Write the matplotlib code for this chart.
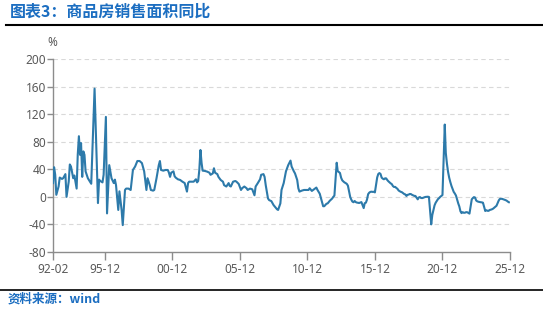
import matplotlib
matplotlib.use("Agg")
import matplotlib.pyplot as plt
import pandas as pd
from matplotlib.lines import Line2D

plt.rcParams['font.family'] = ['Noto Sans CJK SC', 'DejaVu Sans']

title = "图表3：商品房销售面积同比"
source = "资料来源：wind"
unit = "%"

# ---- data ----
dates_1992_2011 = [
    "1992-02", "1992-03", "1992-04", "1992-05", "1992-07", "1992-08", "1992-10", "1992-11",
    "1993-01", "1993-02", "1993-04", "1993-05", "1993-06", "1993-08", "1993-09", "1993-11", "1993-12",
    "1994-01", "1994-02", "1994-03", "1994-04", "1994-05", "1994-06", "1994-07", "1994-08", "1994-09", "1994-12",
    "1995-03", "1995-06", "1995-07", "1995-08", "1995-10", "1995-11",
    "1996-01", "1996-02", "1996-04", "1996-05", "1996-06", "1996-08", "1996-09", "1996-10", "1996-12",
    "1997-01", "1997-03", "1997-04", "1997-06", "1997-07", "1997-09", "1997-11",
    "1998-01", "1998-03", "1998-05", "1998-07", "1998-09", "1998-11",
    "1999-01", "1999-02", "1999-04", "1999-05", "1999-07", "1999-08", "1999-10", "1999-12",
    "2000-01", "2000-02", "2000-04", "2000-06", "2000-08", "2000-09", "2000-10", "2000-11",
    "2001-01", "2001-02", "2001-03", "2001-05", "2001-07", "2001-09", "2001-11",
    "2002-01", "2002-02", "2002-03", "2002-05", "2002-07", "2002-09", "2002-10", "2002-11", "2002-12",
    "2003-01", "2003-02", "2003-03", "2003-05", "2003-07", "2003-09", "2003-10", "2003-12",
    "2004-01", "2004-02", "2004-04", "2004-05", "2004-07", "2004-09", "2004-10", "2004-12",
    "2005-02", "2005-03", "2005-04", "2005-06", "2005-08", "2005-09", "2005-11",
    "2006-01", "2006-02", "2006-04", "2006-06", "2006-07", "2006-09", "2006-11",
    "2007-01", "2007-02", "2007-04", "2007-06", "2007-07", "2007-09", "2007-10", "2007-11",
    "2008-01", "2008-02", "2008-04", "2008-06", "2008-08", "2008-09", "2008-10", "2008-12",
    "2009-01", "2009-03", "2009-05", "2009-07", "2009-09", "2009-10", "2009-12",
    "2010-01", "2010-03", "2010-04", "2010-05", "2010-07", "2010-09",
    "2011-01", "2011-02", "2011-04", "2011-06", "2011-08", "2011-09", "2011-11",
]
values_1992_2011 = [
    20, 43, 32, 3, 15, 28, 26, 27,
    33, 0, 22, 47, 44, 27, 31, 12, 61,
    88, 61, 78, 29, 66, 61, 37, 32, 27, 19,
    157, -9, 25, 23, 21, 32,
    116, -24, 46, 37, 27, 20, 25, 17, -19,
    8, -19, -41, 10, 12, 12, 10,
    39, 44, 52, 52, 49, 37,
    10, 27, 17, 10, 9, 10, 27, 46,
    52, 39, 38, 39, 39, 35, 29, 35,
    37, 30, 28, 25.5, 24.5, 22, 20,
    7.6, 20, 22, 22, 22, 25.5, 21, 23, 39,
    68, 49, 38, 37.6, 36.6, 35, 32, 34,
    41.5, 35, 33, 29, 24.5, 22, 17, 15,
    20, 16, 15, 22, 23, 22, 18.7,
    10, 12.5, 15, 12.5, 10, 12, 11,
    2.3, 15, 20, 25.5, 32, 33, 29, 17,
    -2.3, -4.7, -6.2, -12, -16, -18, -19, -9.5,
    10, 20, 37, 46, 52.6, 44, 37,
    34, 24.5, 12.5, 7.6, 9, 10,
    10, 12.5, 8.6, 11, 13.5, 10, 4.5,
]

# monthly (Feb-Dec) 2012-02 .. 2025-11
dates_2012_2025 = [f"{y}-{m:02d}" for y in range(2012, 2026) for m in range(2, 13)][:-1]
values_2012_2025 = [
    -13.6, -13.6, -11.7, -10.0, -9.5, -7.5, -5.5, -4.0, -2.5, 0.0, 1.8,      # 2012
    49.5, 37.1, 36.0, 34.6, 27.7, 24.0, 22.3, 20.9, 20.0, 18.8, 16.3,       # 2013
    -0.1, -3.8, -6.8, -7.8, -6.0, -7.6, -8.3, -8.6, -8.9, -8.2, -7.6,       # 2014
    -16.3, -9.2, -8.5, -4.0, 3.9, 6.1, 7.2, 7.5, 7.2, 7.4, 6.5,             # 2015
    28.2, 33.1, 34.5, 33.2, 27.9, 26.4, 25.5, 26.9, 26.8, 24.3, 22.5,       # 2016
    19.5, 18.5, 15.7, 14.3, 14.5, 13.0, 11.7, 9.3, 8.2, 7.3, 6.7,           # 2017
    4.1, 3.6, 1.3, 2.9, 3.3, 4.2, 4.0, 2.9, 2.2, 1.4, 1.3,                 # 2018
    -3.6, -0.9, -0.3, -1.6, -1.8, -1.3, -0.6, -0.1, 0.1, 0.2, -0.1,         # 2019
    -39.9, -26.3, -19.3, -12.3, -8.4, -5.8, -3.3, -1.8, 0.0, 1.3, 2.6,      # 2020
    104.9, 63.8, 48.1, 36.3, 27.7, 21.5, 15.9, 11.3, 7.2, 4.8, 1.9,         # 2021
    -9.6, -13.8, -20.9, -23.6, -22.2, -23.1, -23.0, -22.2, -22.3, -23.3, -24.3,  # 2022
    -3.6, -1.8, -0.4, -0.9, -5.3, -6.5, -7.1, -7.5, -7.8, -8.0, -8.5,       # 2023
    -20.5, -19.4, -20.2, -20.3, -19.0, -18.6, -18.0, -17.1, -15.8, -14.3, -12.9,  # 2024
    -5.1, -3.0, -2.8, -2.9, -3.5, -4.0, -4.7, -5.5, -6.8, -7.8,             # 2025
]

xtick_dates = ["1992-02", "1995-12", "2000-12", "2005-12", "2010-12", "2015-12", "2020-12", "2025-12"]
xtick_labels = ["92-02", "95-12", "00-12", "05-12", "10-12", "15-12", "20-12", "25-12"]
yticks = [-80, -40, 0, 40, 80, 120, 160, 200]

# ---- figure ----
W, H = 543, 311
fig = plt.figure(figsize=(W / 100, H / 100), dpi=100)
fig.patch.set_facecolor("white")

ax = fig.add_axes([53 / W, (H - 252) / H, (510 - 53) / W, (252 - 59) / H])

x = pd.to_datetime(dates_1992_2011 + dates_2012_2025)
y = values_1992_2011 + values_2012_2025
ax.plot(x, y, color="#2D7AAA", lw=1.5, solid_joinstyle="round", zorder=3)

ax.set_xlim(pd.Timestamp(xtick_dates[0]), pd.Timestamp(xtick_dates[-1]))
ax.set_ylim(-80, 200)
ax.set_yticks(yticks)
ax.set_yticklabels([str(v) for v in yticks])
ax.set_xticks(pd.to_datetime(xtick_dates))
ax.set_xticklabels(xtick_labels)

for v in yticks[1:]:
    ax.axhline(v, color="#d9d9d9", lw=0.8, ls=(0, (4, 3)), zorder=1)

for s in ["top", "right"]:
    ax.spines[s].set_visible(False)
for s in ["left", "bottom"]:
    ax.spines[s].set_color("#8c8c8c")
    ax.spines[s].set_linewidth(1.0)

ax.tick_params(axis="y", direction="out", length=4, width=1, color="#8c8c8c",
               labelcolor="#595959", labelsize=8.5, pad=1)
ax.tick_params(axis="x", direction="out", length=6, width=1, color="#8c8c8c",
               labelcolor="#595959", labelsize=8.5, pad=2)
for lab in ax.get_xticklabels() + ax.get_yticklabels():
    lab.set_family(["Noto Sans", "DejaVu Sans"])

fig.text(52 / W, 1 - 43 / H, unit, ha="center", va="center", color="#595959",
         fontsize=8.5, family=["Noto Sans", "DejaVu Sans"])

# title and rules
fig.text(10 / W, 1 - 12 / H, title, ha="left", va="center", color="#1C6EC1",
         fontsize=11.5, fontweight="bold")
fig.add_artist(Line2D([6 / W, 1.0], [1 - 24.5 / H, 1 - 24.5 / H], color="black", lw=1.5))
fig.add_artist(Line2D([0.0, 1.0], [1 - 290 / H, 1 - 290 / H], color="black", lw=1.2))
fig.text(8 / W, 1 - 299.5 / H, source, ha="left", va="center", color="#1C6EC1",
         fontsize=9, fontweight="bold")

fig.savefig("out.png", dpi=100)
